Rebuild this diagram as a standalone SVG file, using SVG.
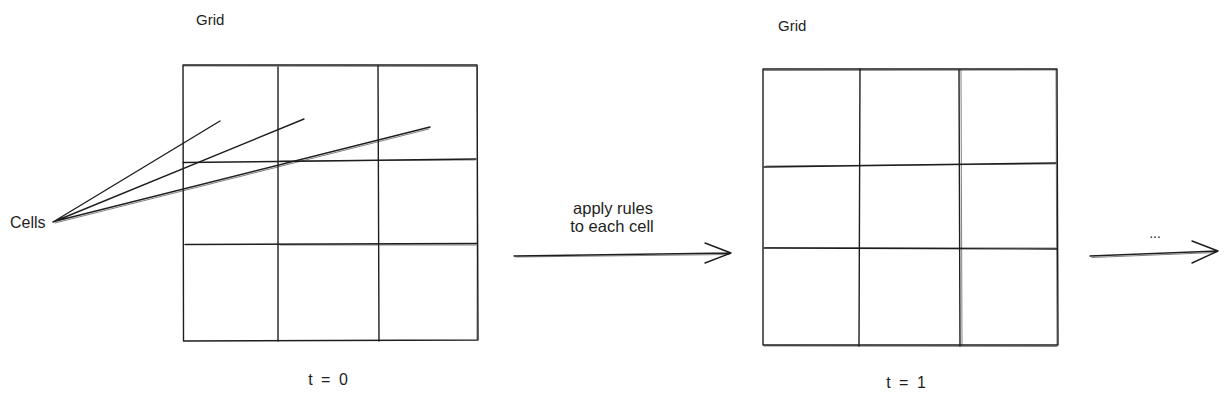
<svg xmlns="http://www.w3.org/2000/svg" width="1227" height="404" viewBox="0 0 1227 404">
<style>
.ln{fill:none;stroke:#1e1e1e;stroke-width:1.4;stroke-linecap:round;stroke-linejoin:round}
.ln2{fill:none;stroke:#1e1e1e;stroke-width:0.7;stroke-linecap:round;opacity:0.8}
.t{font-family:"Liberation Sans",Arial,sans-serif;fill:#1e1e1e}
</style>
<rect width="1227" height="404" fill="#ffffff"/>
<g id="grid0">
<path class="ln" d="M183 65 L477 65 M183 65 L183.5 341 M477 65 L478 340 M183.5 341 L478 340"/>
<path class="ln2" d="M184 66 L476 66.5 M477.5 66 L477 339"/>
<path class="ln" d="M278 67 L278 341 M378 66 L379 341"/>
<path class="ln" d="M183 162.5 L278 161.5 L476 159 M185 244.5 L477 243.5"/>
<path class="ln2" d="M280 161 L475 160 M280 245 L476 245"/>
</g>
<g id="grid1">
<path class="ln" d="M763 69 L1057 69 M763 69 L763 345 M1057 69 L1058 345 M763 345 L1058 345"/>
<path class="ln2" d="M764 70.5 L1056 70 M764 346 L1057 346.5 M1056 70 L1057 344"/>
<path class="ln" d="M860 69 L859 346 M959 70 L960 346"/>
<path class="ln2" d="M961 70 L962 345"/>
<path class="ln" d="M764 167 L1056 163 M764 248 L1057 249"/>
<path class="ln2" d="M766 166 L1055 164 M766 247.5 L1056 248"/>
</g>
<g id="labels">
<text class="t" x="196" y="25" font-size="15">Grid</text>
<text class="t" x="778" y="31" font-size="15">Grid</text>
<text class="t" x="10" y="228" font-size="16">Cells</text>
<text class="t" x="329" y="385" font-size="16" text-anchor="middle" letter-spacing="2">t = 0</text>
<text class="t" x="907" y="388" font-size="16" text-anchor="middle" letter-spacing="2">t = 1</text>
<text class="t" x="613" y="214" font-size="16.5" text-anchor="middle">apply rules</text>
<text class="t" x="612" y="232" font-size="16.5" text-anchor="middle">to each cell</text>
<text class="t" x="1155" y="238" font-size="14" text-anchor="middle">...</text>
</g>
<g id="connectors">
<path class="ln" d="M53 222 L220 121 M53 222 L304 119 M54 221.5 L430 127"/>
<path class="ln2" d="M55 223 L429 129"/>
<path class="ln" d="M514 256 L731 253 M705 243 L731 253 L705 263"/>
<path class="ln2" d="M516 257 L729 254.5"/>
<path class="ln" d="M1090 256 L1218 251 M1192 241 L1218 251 L1192 263"/>
<path class="ln2" d="M1092 257.5 L1216 252.5"/>
</g>
</svg>
